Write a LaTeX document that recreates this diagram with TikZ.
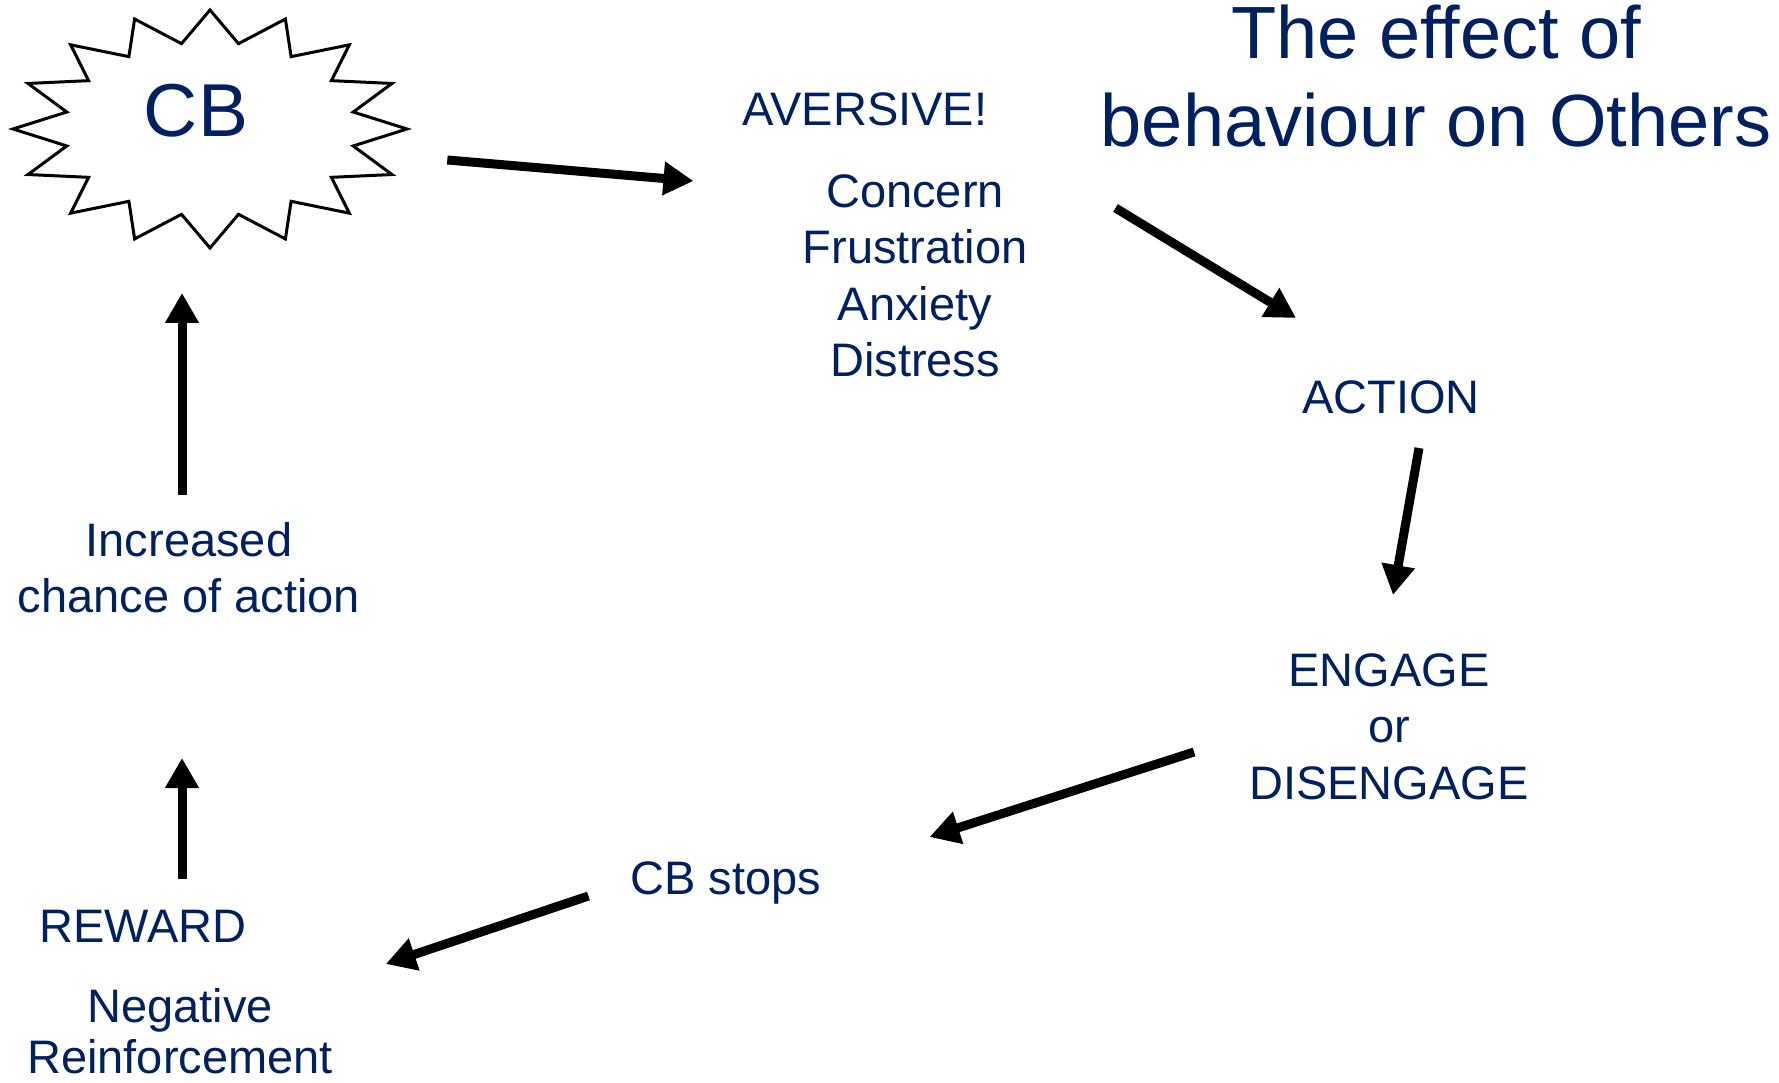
\documentclass[tikz,border=0pt]{standalone}
\usepackage{fontspec}
\setmainfont{Liberation Sans}
\usetikzlibrary{positioning,arrows.meta}
\tikzset{
  txt/.style={font=\fontsize{47}{56.5}\selectfont, text=navy, inner sep=0pt, align=center},
  head/.style={font=\fontsize{74}{88}\selectfont, text=navy, inner sep=0pt, align=center},
  arr/.style={-{Triangle[length=30pt, width=32pt]}, line width=9pt, draw=black},
  burstline/.style={draw=black, line width=3pt, line join=miter},
}
\definecolor{navy}{HTML}{002060}

\begin{document}
\begin{tikzpicture}[x=1pt, y=1pt]
  \useasboundingbox (0,0) rectangle (1779,1082);
  % the starburst round CB
  \coordinate (burst) at (210,953);
  \draw[burstline, shift={(burst)}] plot[samples at={0,11.25,...,348.75}]
      ({(171.5+25.5*cos(16*\x))*cos(\x)}, {(103+16*cos(16*\x))*sin(\x)}) -- cycle;
  \node[txt, font=\fontsize{75}{90}\selectfont, anchor=base] (cb) at (196,945) {CB};

  % base of a node of several lines = baseline of its last line
  \node[head, anchor=base] (title) at (1436,935) {The effect of\\behaviour on Others};
  \node[txt, anchor=base] (aversive) at (865,956) {AVERSIVE!};
  \node[txt, anchor=base] (feelings) at (915,705) {Concern\\Frustration\\Anxiety\\Distress};
  \node[txt, anchor=base] (action) at (1391,668) {ACTION};
  \node[txt, anchor=base] (engage) at (1389,283) {ENGAGE\\or\\DISENGAGE};
  \node[txt, anchor=base] (cbstops) at (726,188) {CB stops};
  \node[txt, anchor=base] (reward) at (143,140) {REWARD};
  \node[txt, anchor=base, font=\fontsize{47}{51}\selectfont] (negreinf) at (180,9) {Negative\\Reinforcement};
  \node[txt, anchor=base] (increased) at (189,469) {Increased\\chance of action};

  % the loop
  \draw[arr] ([shift={(199,-23)}]cb.base east) -- ([shift={(-49,-55)}]aversive.base west);
  \draw[arr] ([shift={(88,169)}]feelings.base east) -- ([shift={(-6,96)}]action.base west);
  \draw[arr] ([shift={(28,-34)}]action.base) -- ([shift={(4,204)}]engage.base);
  \draw[arr] ([shift={(-55,47)}]engage.base west) -- ([shift={(108,57)}]cbstops.base east);
  \draw[arr] ([shift={(-42,-2)}]cbstops.base west) -- ([shift={(139,-22)}]reward.base east);
  \draw[arr] ([shift={(39,63)}]reward.base) -- ([shift={(-7,-145)}]increased.base);
  \draw[arr] ([shift={(-7,118)}]increased.base) -- ([shift={(-14,-156)}]cb.base);
\end{tikzpicture}
\end{document}
